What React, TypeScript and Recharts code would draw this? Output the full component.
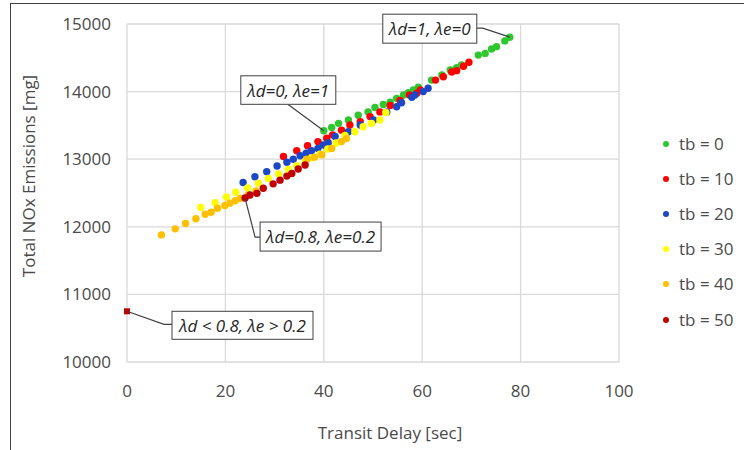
import React from 'react';
import { ScatterChart, Scatter, XAxis, YAxis, CartesianGrid, ReferenceDot } from 'recharts';

// [transit delay (sec), total NOx (mg)] for each buffer time tb
const TB0: [number, number][] = [
  [40, 13420], [41.6, 13470], [43, 13530], [45, 13580], [47, 13650], [49, 13700],
  [50.4, 13765], [52.1, 13810], [53.5, 13845], [54.8, 13900], [56.2, 13950], [57.2, 13985],
  [58.2, 14025], [59.2, 14065], [61.9, 14170], [64, 14245], [65.7, 14320], [67, 14355],
  [68, 14395], [71.4, 14540], [72.8, 14565], [74.1, 14630], [75.1, 14665], [76.8, 14750],
  [77.8, 14805],
];
const TB10: [number, number][] = [
  [31.8, 13040], [34.5, 13125], [36.7, 13200], [38.8, 13260], [40.6, 13310], [41.8, 13360],
  [43.6, 13430], [45.3, 13505], [47.4, 13555], [49.4, 13630], [51.4, 13700], [53.5, 13795],
  [55.5, 13870], [57.4, 13950], [58.9, 13975], [59.6, 14025], [62.7, 14170], [64.3, 14220],
  [66, 14290], [67, 14310], [68.4, 14375], [69.5, 14435],
];
const TB20: [number, number][] = [
  [23.6, 12655], [26, 12740], [28.4, 12815], [30.5, 12900], [32.5, 12955], [33.8, 13000],
  [35.2, 13050], [36.4, 13090], [37.5, 13125], [38.8, 13160], [39.9, 13210], [40.9, 13245],
  [42.3, 13335], [45, 13405], [47.4, 13505], [50.1, 13580], [52.8, 13700], [54.8, 13775],
  [55.8, 13835], [57.9, 13915], [58.5, 13950], [60.2, 14000], [61.2, 14050],
];
const TB30: [number, number][] = [
  [15, 12285], [17.9, 12355], [20.2, 12440], [22.1, 12510], [24.5, 12575], [26.7, 12645],
  [28.7, 12715], [30.8, 12780], [32.8, 12850], [34.5, 12905], [36.2, 12965], [37.5, 13020],
  [39.2, 13075], [40.8, 13150], [42.5, 13240], [44.3, 13350], [46.3, 13405], [48, 13480],
  [49.7, 13530], [51.4, 13580], [52.6, 13690],
];
const TB40: [number, number][] = [
  [7, 11880], [9.8, 11970], [11.9, 12050], [14, 12120], [15.9, 12185], [17.1, 12215],
  [18.4, 12275], [19.9, 12315], [20.9, 12350], [22, 12385], [23, 12420], [24.6, 12470],
  [26.2, 12530], [36.6, 13000], [38.1, 13030], [39.6, 13065], [41.6, 13160], [43.6, 13260],
  [44.6, 13305],
];
const TB50: [number, number][] = [
  [24, 12425], [25, 12470], [26.4, 12495], [27.7, 12570], [29.7, 12635], [31.1, 12690],
  [32.5, 12750], [33.5, 12790], [34.8, 12855], [36.2, 12915],
];
// weighting outside the swept range
const LIMIT_CASE: [number, number][] = [[0, 10750]];

const SERIES_NAMES = ['tb = 0', 'tb = 10', 'tb = 20', 'tb = 30', 'tb = 40', 'tb = 50'];
const SERIES_COLORS = ['#2ec72e', '#ff0000', '#1c48c8', '#ffff00', '#ffc000', '#c00000'];
const SERIES_POINTS = [TB0, TB10, TB20, TB30, TB40, TB50];

const X_TICKS = [0, 20, 40, 60, 80, 100];
const Y_TICKS = [10000, 11000, 12000, 13000, 14000, 15000];

const FONT = "'Open Sans', 'Noto Sans', sans-serif";
const TEXT_GREY = '#4a4a4a';

const toRows = (pts: [number, number][]) => pts.map(([x, y]) => ({ x, y }));

const dot = (color: string) => (props: any) => (
  <circle cx={props.cx} cy={props.cy} r={3.7} fill={color} />
);

const square = (props: any) => (
  <rect x={props.cx - 3} y={props.cy - 3} width={6} height={6} fill="#c00000" />
);

// boxed italic note with a leader line back to the point it describes
const callout = (text: string, box: number[], leader: number[][]) => (props: any) => {
  const { cx, cy } = props;
  const [bx, by, bw, bh] = box;
  const d = leader.map(([dx, dy], i) => `${i ? 'L' : 'M'}${cx + dx},${cy + dy}`).join(' ');
  return (
    <g>
      <path d={d} stroke="#404040" strokeWidth={1.2} fill="none" />
      <rect x={cx + bx} y={cy + by} width={bw} height={bh} fill="#ffffff" stroke="#404040" strokeWidth={1} />
      <text
        x={cx + bx + bw / 2}
        y={cy + by + bh / 2}
        textAnchor="middle"
        dominantBaseline="central"
        fontStyle="italic"
        fontSize={17}
        fill="#262626"
        fontFamily={FONT}
      >
        {text}
      </text>
    </g>
  );
};

export default function App() {
  return (
    <div style={{ position: 'absolute', left: 0, top: 0, width: 744, height: 450, background: '#fff', fontFamily: FONT, overflow: 'hidden' }}>
      {/* chart frame */}
      <div style={{ position: 'absolute', left: 10, top: 3, width: 760, height: 470, borderLeft: '1px solid #404040', borderTop: '1px solid #404040' }} />

      <ScatterChart width={744} height={450} margin={{ top: 24, right: 125, bottom: 0, left: 0 }}>
        <CartesianGrid stroke="#d9d9d9" strokeWidth={1.3} />
        <XAxis
          type="number"
          dataKey="x"
          domain={[0, 100]}
          ticks={X_TICKS}
          height={88}
          axisLine={false}
          tickLine={false}
          tickSize={0}
          tickMargin={23}
          tick={{ fill: TEXT_GREY, fontSize: 17 }}
        />
        <YAxis
          type="number"
          dataKey="y"
          domain={[10000, 15000]}
          ticks={Y_TICKS}
          width={127}
          axisLine={false}
          tickLine={false}
          tickSize={0}
          tickMargin={16}
          tick={{ fill: TEXT_GREY, fontSize: 17 }}
        />
        {SERIES_POINTS.map((pts, i) => (
          <Scatter
            key={SERIES_NAMES[i]}
            name={SERIES_NAMES[i]}
            data={toRows(pts)}
            shape={dot(SERIES_COLORS[i])}
            isAnimationActive={false}
          />
        ))}
        <Scatter name="limit" data={toRows(LIMIT_CASE)} shape={square} isAnimationActive={false} />

        <ReferenceDot x={77.8} y={14805} shape={callout('λd=1, λe=0', [-127, -23, 94, 29], [[0, 0], [-27, -9], [-33, -9]])} />
        <ReferenceDot x={40} y={13420} shape={callout('λd=0, λe=1', [-83, -55, 95, 28.5], [[0, 0], [-36, -26.5]])} />
        <ReferenceDot x={24} y={12425} shape={callout('λd=0.8, λe=0.2', [15, 24, 121, 29], [[0, 0], [10, 39], [15, 39]])} />
        <ReferenceDot x={0} y={10750} shape={callout('λd < 0.8, λe > 0.2', [45, 0, 141, 28], [[0, 0], [37, 13], [45, 13]])} />
      </ScatterChart>

      {/* axis titles */}
      <div style={{ position: 'absolute', left: 28, top: 176, transform: 'translate(-50%, -50%) rotate(-90deg)', whiteSpace: 'nowrap', fontSize: 17, color: TEXT_GREY }}>
        Total NOx Emissions [mg]
      </div>
      <div style={{ position: 'absolute', left: 390, top: 432, transform: 'translate(-50%, -50%)', whiteSpace: 'nowrap', fontSize: 17, color: TEXT_GREY }}>
        Transit Delay [sec]
      </div>

      {/* legend */}
      <div style={{ position: 'absolute', left: 662, top: 126 }}>
        {SERIES_NAMES.map((name, i) => (
          <div key={name} style={{ display: 'flex', alignItems: 'center', height: 35.2 }}>
            <span style={{ width: 6, height: 6, borderRadius: 3, background: SERIES_COLORS[i], marginRight: 10, marginLeft: 1 }} />
            <span style={{ fontSize: 17, color: TEXT_GREY, lineHeight: '20px' }}>{name}</span>
          </div>
        ))}
      </div>
    </div>
  );
}
